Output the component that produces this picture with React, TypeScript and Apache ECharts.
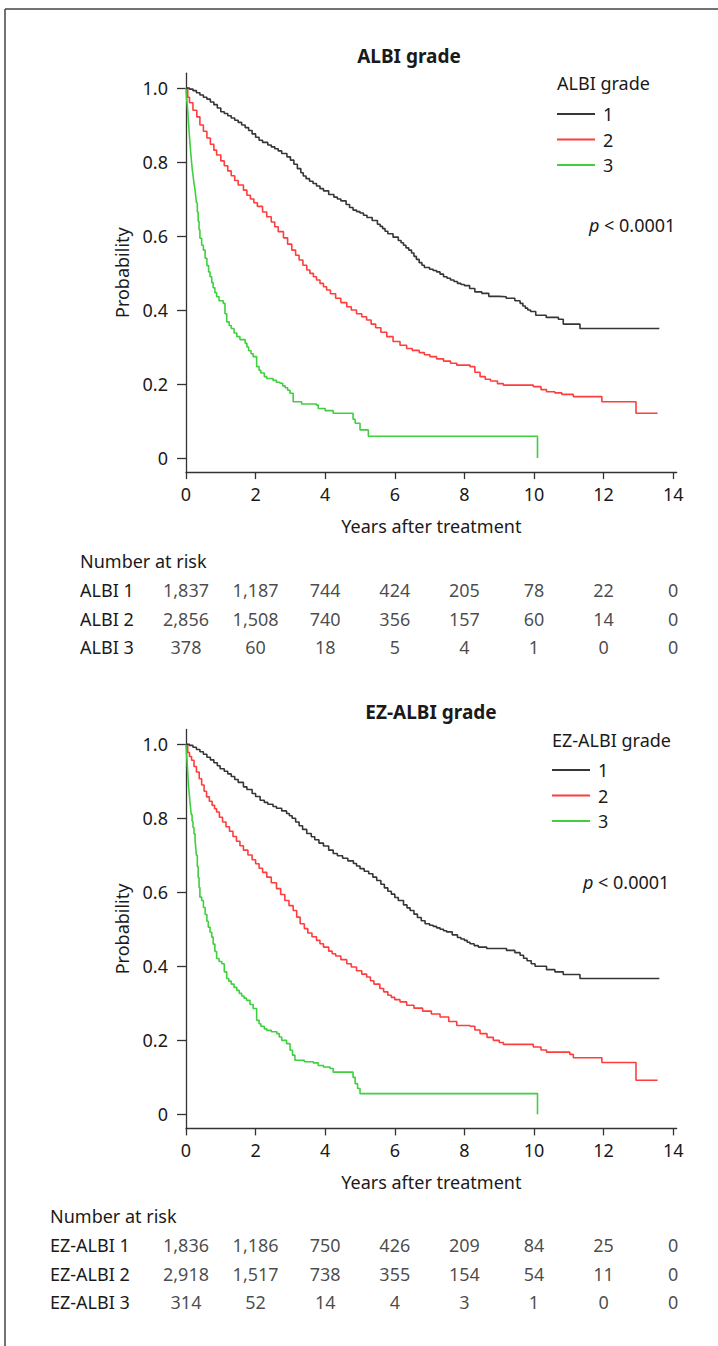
import React, { useEffect, useRef } from "react";
import * as echarts from "echarts";

const FONT = '"Noto Sans", "Open Sans", sans-serif';

// ---- data ----
const riskYears = [0, 2, 4, 6, 8, 10, 12, 14];
const yTicks = [0, 0.2, 0.4, 0.6, 0.8, 1.0];
const gradeNames = ["1", "2", "3"];

const albiRiskRows = ["ALBI 1", "ALBI 2", "ALBI 3"];
const albiRisk1 = [1837, 1187, 744, 424, 205, 78, 22, 0];
const albiRisk2 = [2856, 1508, 740, 356, 157, 60, 14, 0];
const albiRisk3 = [378, 60, 18, 5, 4, 1, 0, 0];

const ezRiskRows = ["EZ-ALBI 1", "EZ-ALBI 2", "EZ-ALBI 3"];
const ezRisk1 = [1836, 1186, 750, 426, 209, 84, 25, 0];
const ezRisk2 = [2918, 1517, 738, 355, 154, 54, 11, 0];
const ezRisk3 = [314, 52, 14, 4, 3, 1, 0, 0];

// Kaplan-Meier curves: [years, survival probability]
const albiKm1 = [
  [0, 1], [0.1, 0.997], [0.2, 0.993], [0.3, 0.987], [0.4, 0.981], [0.5, 0.975], [0.6, 0.97], [0.7, 0.962],
  [0.8, 0.955], [0.9, 0.946], [1.0, 0.936], [1.1, 0.931], [1.2, 0.925], [1.3, 0.919], [1.4, 0.913],
  [1.5, 0.907], [1.6, 0.9], [1.7, 0.893], [1.8, 0.885], [1.9, 0.876], [2.0, 0.867], [2.1, 0.859],
  [2.2, 0.853], [2.35, 0.846], [2.45, 0.841], [2.55, 0.836], [2.65, 0.83], [2.75, 0.823], [2.9, 0.814],
  [3.0, 0.805], [3.1, 0.794], [3.2, 0.782], [3.3, 0.771], [3.37, 0.762], [3.45, 0.755], [3.55, 0.748],
  [3.65, 0.742], [3.75, 0.735], [3.85, 0.728], [3.95, 0.722], [4.1, 0.712], [4.25, 0.705], [4.35, 0.7],
  [4.45, 0.695], [4.6, 0.685], [4.7, 0.677], [4.8, 0.67], [4.9, 0.666], [5.0, 0.662], [5.1, 0.656],
  [5.2, 0.65], [5.35, 0.642], [5.5, 0.632], [5.58, 0.626], [5.65, 0.62], [5.72, 0.613], [5.8, 0.606],
  [5.95, 0.597], [6.1, 0.588], [6.18, 0.582], [6.25, 0.575], [6.32, 0.568], [6.4, 0.562], [6.48, 0.554],
  [6.55, 0.545], [6.62, 0.537], [6.7, 0.528], [6.78, 0.521], [6.85, 0.515], [7.0, 0.51], [7.1, 0.507],
  [7.2, 0.503], [7.3, 0.497], [7.4, 0.49], [7.5, 0.486], [7.6, 0.481], [7.7, 0.477], [7.8, 0.472],
  [7.9, 0.469], [8.0, 0.466], [8.15, 0.458], [8.3, 0.449], [8.5, 0.445], [8.7, 0.437], [9.0, 0.436],
  [9.2, 0.432], [9.45, 0.425], [9.6, 0.418], [9.68, 0.411], [9.75, 0.405], [9.82, 0.4], [9.9, 0.396],
  [10.05, 0.386], [10.35, 0.38], [10.7, 0.375], [10.84, 0.362], [11.32, 0.35], [13.6, 0.35],
];
const albiKm2 = [
  [0, 1], [0.05, 0.975], [0.1, 0.96], [0.2, 0.94], [0.31, 0.922], [0.4, 0.9], [0.5, 0.883], [0.6, 0.865],
  [0.7, 0.848], [0.8, 0.832], [0.88, 0.819], [1.0, 0.803], [1.1, 0.79], [1.2, 0.776], [1.3, 0.763],
  [1.4, 0.75], [1.5, 0.738], [1.65, 0.724], [1.75, 0.71], [1.85, 0.7], [1.95, 0.69], [2.05, 0.68],
  [2.2, 0.665], [2.32, 0.652], [2.45, 0.638], [2.55, 0.625], [2.65, 0.612], [2.8, 0.595], [2.92, 0.578],
  [3.04, 0.562], [3.15, 0.548], [3.25, 0.535], [3.36, 0.521], [3.47, 0.508], [3.56, 0.499], [3.66, 0.49],
  [3.75, 0.481], [3.85, 0.472], [3.95, 0.463], [4.04, 0.454], [4.15, 0.444], [4.3, 0.432], [4.45, 0.42],
  [4.62, 0.409], [4.75, 0.4], [4.9, 0.39], [5.05, 0.382], [5.19, 0.373], [5.32, 0.362], [5.45, 0.352],
  [5.6, 0.34], [5.77, 0.328], [5.95, 0.315], [6.15, 0.305], [6.34, 0.296], [6.5, 0.291], [6.7, 0.285],
  [6.85, 0.279], [7.01, 0.274], [7.2, 0.268], [7.4, 0.262], [7.6, 0.256], [7.78, 0.251], [8.16, 0.247],
  [8.3, 0.232], [8.45, 0.22], [8.6, 0.213], [8.75, 0.208], [8.95, 0.201], [9.12, 0.197], [9.98, 0.193],
  [10.2, 0.185], [10.36, 0.179], [10.6, 0.176], [10.8, 0.172], [11.13, 0.166], [11.95, 0.152],
  [12.93, 0.121], [13.55, 0.121],
];
const albiKm3 = [
  [0, 1], [0.01, 0.985], [0.02, 0.97], [0.03, 0.96], [0.04, 0.95], [0.055, 0.93], [0.07, 0.91],
  [0.085, 0.89], [0.1, 0.869], [0.12, 0.845], [0.14, 0.82], [0.16, 0.8], [0.18, 0.78], [0.2, 0.765],
  [0.22, 0.75], [0.24, 0.737], [0.26, 0.724], [0.28, 0.707], [0.3, 0.69], [0.325, 0.665], [0.35, 0.64],
  [0.375, 0.617], [0.4, 0.594], [0.45, 0.575], [0.5, 0.562], [0.55, 0.54], [0.6, 0.52], [0.65, 0.503],
  [0.69, 0.49], [0.74, 0.474], [0.78, 0.46], [0.83, 0.447], [0.88, 0.436], [0.95, 0.425], [1.07, 0.418],
  [1.12, 0.39], [1.17, 0.368], [1.24, 0.358], [1.3, 0.35], [1.38, 0.338], [1.46, 0.328], [1.55, 0.32],
  [1.7, 0.31], [1.75, 0.3], [1.8, 0.29], [1.87, 0.282], [1.93, 0.274], [2.03, 0.247], [2.1, 0.237],
  [2.15, 0.23], [2.25, 0.22], [2.32, 0.215], [2.5, 0.21], [2.6, 0.205], [2.7, 0.202], [2.78, 0.195],
  [2.85, 0.19], [2.92, 0.183], [2.99, 0.175], [3.08, 0.152], [3.32, 0.146], [3.75, 0.143], [3.8, 0.134],
  [4.0, 0.128], [4.23, 0.121], [4.8, 0.105], [4.86, 0.094], [5.0, 0.076], [5.24, 0.059], [10.1, 0.0],
];

const ezKm1 = [
  [0, 1], [0.1, 0.997], [0.2, 0.992], [0.3, 0.986], [0.4, 0.98], [0.5, 0.973], [0.6, 0.965], [0.7, 0.958],
  [0.8, 0.95], [0.9, 0.942], [0.98, 0.934], [1.1, 0.927], [1.2, 0.92], [1.3, 0.913], [1.4, 0.905],
  [1.5, 0.897], [1.65, 0.885], [1.75, 0.878], [1.9, 0.867], [2.0, 0.859], [2.13, 0.849], [2.25, 0.843],
  [2.35, 0.838], [2.5, 0.832], [2.6, 0.827], [2.75, 0.82], [2.89, 0.813], [2.97, 0.807], [3.05, 0.8],
  [3.15, 0.79], [3.25, 0.78], [3.35, 0.77], [3.47, 0.759], [3.6, 0.75], [3.7, 0.742], [3.82, 0.733],
  [3.95, 0.725], [4.1, 0.714], [4.23, 0.705], [4.35, 0.699], [4.5, 0.692], [4.65, 0.685], [4.81, 0.678],
  [4.9, 0.671], [5.0, 0.664], [5.12, 0.657], [5.25, 0.65], [5.37, 0.641], [5.48, 0.632], [5.6, 0.622],
  [5.7, 0.612], [5.8, 0.603], [5.9, 0.595], [6.0, 0.586], [6.1, 0.578], [6.25, 0.566], [6.35, 0.558],
  [6.44, 0.551], [6.55, 0.541], [6.65, 0.532], [6.76, 0.523], [6.87, 0.515], [7.0, 0.511], [7.1, 0.508],
  [7.2, 0.504], [7.3, 0.5], [7.4, 0.496], [7.49, 0.493], [7.65, 0.485], [7.8, 0.478], [7.9, 0.474],
  [8.0, 0.47], [8.08, 0.465], [8.16, 0.461], [8.28, 0.456], [8.4, 0.452], [8.64, 0.448], [9.21, 0.443],
  [9.45, 0.437], [9.6, 0.43], [9.7, 0.422], [9.8, 0.415], [9.92, 0.407], [10.03, 0.4], [10.36, 0.391],
  [10.6, 0.385], [10.84, 0.378], [11.32, 0.367], [13.6, 0.367],
];
const ezKm2 = [
  [0, 1], [0.05, 0.978], [0.1, 0.967], [0.16, 0.957], [0.23, 0.94], [0.3, 0.925], [0.38, 0.907],
  [0.45, 0.89], [0.52, 0.873], [0.59, 0.858], [0.67, 0.846], [0.75, 0.835], [0.82, 0.826], [0.88, 0.817],
  [0.96, 0.803], [1.05, 0.79], [1.15, 0.777], [1.25, 0.765], [1.35, 0.751], [1.45, 0.738], [1.55, 0.726],
  [1.65, 0.714], [1.78, 0.701], [1.9, 0.688], [2.0, 0.677], [2.1, 0.665], [2.2, 0.654], [2.32, 0.641],
  [2.45, 0.626], [2.6, 0.61], [2.72, 0.594], [2.84, 0.578], [2.96, 0.564], [3.08, 0.551], [3.18, 0.533],
  [3.28, 0.515], [3.4, 0.502], [3.5, 0.49], [3.62, 0.48], [3.75, 0.47], [3.85, 0.461], [3.95, 0.452],
  [4.1, 0.441], [4.2, 0.434], [4.3, 0.428], [4.45, 0.418], [4.62, 0.407], [4.75, 0.398], [4.9, 0.388],
  [5.05, 0.379], [5.19, 0.371], [5.3, 0.361], [5.4, 0.352], [5.57, 0.34], [5.68, 0.331], [5.8, 0.322],
  [5.9, 0.316], [6.0, 0.31], [6.15, 0.304], [6.34, 0.295], [6.55, 0.287], [6.8, 0.279], [7.05, 0.271],
  [7.3, 0.263], [7.55, 0.251], [7.78, 0.24], [8.16, 0.238], [8.3, 0.228], [8.45, 0.218], [8.65, 0.208],
  [8.83, 0.2], [9.0, 0.194], [9.12, 0.189], [9.98, 0.182], [10.2, 0.174], [10.36, 0.168], [11.03, 0.162],
  [11.13, 0.153], [11.95, 0.14], [12.93, 0.092], [13.55, 0.092],
];
const ezKm3 = [
  [0, 1], [0.01, 0.985], [0.02, 0.97], [0.03, 0.955], [0.04, 0.939], [0.055, 0.915], [0.07, 0.89],
  [0.09, 0.87], [0.11, 0.849], [0.13, 0.83], [0.15, 0.81], [0.175, 0.792], [0.2, 0.775], [0.23, 0.758],
  [0.26, 0.741], [0.28, 0.72], [0.3, 0.7], [0.325, 0.67], [0.35, 0.64], [0.375, 0.613], [0.4, 0.587],
  [0.45, 0.578], [0.5, 0.559], [0.55, 0.54], [0.6, 0.522], [0.64, 0.506], [0.69, 0.492], [0.74, 0.479],
  [0.78, 0.46], [0.83, 0.44], [0.88, 0.421], [0.95, 0.413], [1.03, 0.407], [1.1, 0.385], [1.17, 0.367],
  [1.23, 0.36], [1.3, 0.352], [1.38, 0.343], [1.46, 0.335], [1.53, 0.327], [1.6, 0.32], [1.67, 0.314],
  [1.74, 0.308], [1.84, 0.297], [1.93, 0.286], [2.03, 0.254], [2.1, 0.245], [2.15, 0.238], [2.25, 0.231],
  [2.32, 0.227], [2.45, 0.223], [2.61, 0.218], [2.68, 0.209], [2.75, 0.2], [2.89, 0.191], [2.99, 0.173],
  [3.06, 0.16], [3.13, 0.146], [3.4, 0.142], [3.66, 0.139], [3.8, 0.132], [3.95, 0.128], [4.14, 0.124],
  [4.23, 0.114], [4.8, 0.1], [4.86, 0.083], [4.93, 0.07], [5.0, 0.056], [10.1, 0.0],
];

// ---- style ----
const COLORS = ["#363636", "#ff3d3d", "#3fcf3f"];
const TEXT = "#1a1a1a";
const AXIS = "#333";
const X_MAX = 14.1;
const Y_MIN = -0.038;
const Y_MAX = 1.04;
const FS = 18;

type Panel = {
  title: string;
  titleX: number;
  titleY: number;
  gridTop: number;
  riskTop: number;
  km: number[][][];
  riskRows: string[];
  risk: number[][];
  labelLeft: number;
  nrY: number;
  legendTitle: string;
  legendLeft: number;
  legendTitleY: number;
  legendTop: number;
  pX: number;
  pY: number;
};

const panels: Panel[] = [
  {
    title: "ALBI grade", titleX: 409, titleY: 56, gridTop: 73.2, riskTop: 575.75,
    km: [albiKm1, albiKm2, albiKm3], riskRows: albiRiskRows, risk: [albiRisk1, albiRisk2, albiRisk3],
    labelLeft: 80, nrY: 561, legendTitle: "ALBI grade", legendLeft: 557, legendTitleY: 83, legendTop: 104,
    pX: 589, pY: 225,
  },
  {
    title: "EZ-ALBI grade", titleX: 431, titleY: 712, gridTop: 729.5, riskTop: 1230.75,
    km: [ezKm1, ezKm2, ezKm3], riskRows: ezRiskRows, risk: [ezRisk1, ezRisk2, ezRisk3],
    labelLeft: 50, nrY: 1216, legendTitle: "EZ-ALBI grade", legendLeft: 552, legendTitleY: 740, legendTop: 760,
    pX: 583, pY: 882,
  },
];

function buildOption() {
  const grid: any[] = [];
  const xAxis: any[] = [];
  const yAxis: any[] = [];
  const series: any[] = [];
  const legend: any[] = [];
  const graphic: any[] = [
    { type: "line", shape: { x1: 5, y1: 9, x2: 718, y2: 9 }, style: { stroke: "#444", lineWidth: 1.5 } },
    { type: "line", shape: { x1: 5, y1: 9, x2: 5, y2: 1346 }, style: { stroke: "#444", lineWidth: 1.5 } },
  ];
  const textStyle = { fontFamily: FONT, fontSize: FS, color: TEXT };

  panels.forEach((p, pi) => {
    const gMain = pi * 2;
    const gRisk = pi * 2 + 1;
    grid.push({ left: 186, top: p.gridTop, width: 490.7, height: 398.9 });
    grid.push({ left: 186, top: p.riskTop, width: 490.7, height: 85.5 });

    xAxis.push({
      type: "value", gridIndex: gMain, min: 0, max: X_MAX,
      axisLine: { show: true, onZero: false, lineStyle: { color: AXIS, width: 1.3 } },
      axisTick: { show: true, length: 7, customValues: riskYears, lineStyle: { color: AXIS, width: 1.3 } },
      axisLabel: { customValues: riskYears, margin: 13, ...textStyle },
      splitLine: { show: false },
      name: "Years after treatment", nameLocation: "middle", nameGap: 45,
      nameTextStyle: { ...textStyle },
    });
    yAxis.push({
      type: "value", gridIndex: gMain, min: Y_MIN, max: Y_MAX,
      axisLine: { show: true, onZero: false, lineStyle: { color: AXIS, width: 1.3 } },
      axisTick: { show: true, length: 9, customValues: yTicks, lineStyle: { color: AXIS, width: 1.3 } },
      axisLabel: {
        customValues: yTicks, margin: 18, ...textStyle,
        formatter: (v: number) => (v === 0 ? "0" : v.toFixed(1)),
      },
      splitLine: { show: false },
      name: "Probability", nameLocation: "middle", nameGap: 55, nameRotate: 90,
      nameTextStyle: { ...textStyle },
    });
    xAxis.push({ type: "value", gridIndex: gRisk, min: 0, max: X_MAX, show: false });
    yAxis.push({
      type: "category", gridIndex: gRisk, data: p.riskRows, inverse: true,
      axisLine: { show: false }, axisTick: { show: false }, splitLine: { show: false },
      axisLabel: { align: "left", margin: 186 - p.labelLeft, ...textStyle },
    });

    p.km.forEach((d, i) => {
      series.push({
        type: "line", name: gradeNames[i], xAxisIndex: gMain, yAxisIndex: gMain,
        data: d, step: "end", symbol: "none", showSymbol: false,
        lineStyle: { color: COLORS[i], width: 1.6 }, itemStyle: { color: COLORS[i] },
        z: 3 - i,
      });
    });

    const riskData: any[] = [];
    p.risk.forEach((row, r) => {
      row.forEach((v, c) => riskData.push([riskYears[c], r, v]));
    });
    series.push({
      type: "scatter", xAxisIndex: gRisk, yAxisIndex: gRisk, data: riskData,
      symbolSize: 1, itemStyle: { color: "rgba(0,0,0,0)" }, silent: true,
      label: {
        show: true, position: "inside", ...textStyle,
        formatter: (prm: any) => Number(prm.value[2]).toLocaleString("en-US"),
      },
    });

    legend.push({
      orient: "vertical", left: p.legendLeft, top: p.legendTop, data: gradeNames,
      icon: "rect", itemWidth: 38, itemHeight: 2, itemGap: 5.5, padding: 0,
      selectedMode: false,
      textStyle: { ...textStyle, lineHeight: 20, padding: [0, 0, 0, 3] },
    });

    graphic.push({
      type: "text", x: p.titleX, y: p.titleY,
      style: { text: p.title, fontFamily: FONT, fontSize: 19, fontWeight: "bold", fill: TEXT, align: "center", verticalAlign: "middle" },
    });
    graphic.push({
      type: "text", x: p.legendLeft, y: p.legendTitleY,
      style: { text: p.legendTitle, fontFamily: FONT, fontSize: FS, fill: TEXT, align: "left", verticalAlign: "middle" },
    });
    graphic.push({
      type: "text", x: p.pX, y: p.pY,
      style: {
        text: "{i|p} < 0.0001", fontFamily: FONT, fontSize: FS, fill: TEXT, align: "left", verticalAlign: "middle",
        rich: { i: { fontStyle: "italic", fontFamily: FONT, fontSize: FS, fill: TEXT } },
      },
    });
    graphic.push({
      type: "text", x: p.labelLeft, y: p.nrY,
      style: { text: "Number at risk", fontFamily: FONT, fontSize: FS, fill: TEXT, align: "left", verticalAlign: "middle" },
    });
  });

  return {
    animation: false,
    backgroundColor: "#fff",
    grid, xAxis, yAxis, series, legend, graphic,
  };
}

export default function App() {
  const ref = useRef<HTMLDivElement>(null);
  useEffect(() => {
    if (!ref.current) return;
    const chart = echarts.init(ref.current, null, { renderer: "svg", width: 718, height: 1346 });
    chart.setOption(buildOption() as any);
    return () => chart.dispose();
  }, []);
  return (
    <div
      ref={ref}
      style={{ position: "absolute", left: 0, top: 0, width: 718, height: 1346, background: "#fff" }}
    />
  );
}
